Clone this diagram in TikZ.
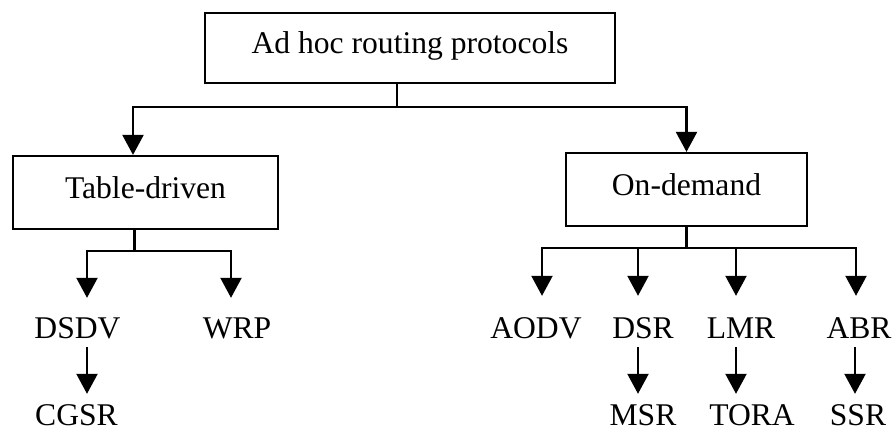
\documentclass[tikz,border=0pt]{standalone}
\usepackage{fontspec}
\setmainfont{Liberation Serif}
\usetikzlibrary{arrows.meta}
\begin{document}
\begin{tikzpicture}[x=1pt,y=-1pt,
  every node/.style={font=\fontsize{31.6}{36}\selectfont},
  box/.style={draw, line width=2.2pt, inner sep=0pt, text height=21pt, text depth=9.5pt},
  lbl/.style={inner sep=0pt, anchor=base, text height=21pt, text depth=0pt},
  arr/.style={line width=2.2pt, -{Triangle[width=21pt,length=20pt]}},
  ln/.style={line width=2.2pt}]
\useasboundingbox (0,0) rectangle (894,434);

% category boxes
\node[box, minimum width=410pt, minimum height=70pt] (top) at (410,48) {Ad hoc routing protocols};
\node[box, minimum width=265pt, minimum height=73pt] (td) at (145.5,192.5) {Table-driven};
\node[box, minimum width=241pt, minimum height=73pt] (od) at (686.5,189.5) {On-demand};

% protocol names (placed by baseline)
\node[lbl] (dsdv) at (77.5,338) {DSDV};
\node[lbl] (wrp)  at (237,338) {WRP};
\node[lbl] (cgsr) at (76.5,425) {CGSR};
\node[lbl] (aodv) at (536,338) {AODV};
\node[lbl] (dsr)  at (643,338) {DSR};
\node[lbl] (lmr)  at (741,338) {LMR};
\node[lbl] (abr)  at (859,338) {ABR};
\node[lbl] (msr)  at (643,425) {MSR};
\node[lbl] (tora) at (752,425) {TORA};
\node[lbl] (ssr)  at (858,425) {SSR};

% branch points
\coordinate (s0) at ([xshift=-13pt]top.south);
\coordinate (j0) at (397,107);
\coordinate (s1) at ([xshift=-11pt]td.south);
\coordinate (j1) at (134.5,251);
\coordinate (j2) at (686.5,248);

% arrow ends above the names
\coordinate (tdsdv) at ([xshift=9.5pt,yshift=19pt]dsdv.north);
\coordinate (twrp)  at ([xshift=-6pt,yshift=19pt]wrp.north);
\coordinate (taodv) at ([xshift=6pt,yshift=21pt]aodv.north);
\coordinate (tdsr)  at ([xshift=-5pt,yshift=21pt]dsr.north);
\coordinate (tlmr)  at ([xshift=-5pt,yshift=21pt]lmr.north);
\coordinate (tabr)  at ([xshift=-3pt,yshift=21pt]abr.north);

% top level
\draw[ln] (s0) -- (j0);
\draw[arr] (j0) -| ([xshift=-12.5pt]td.north);
\draw[arr] (j0) -| (od.north);

% table-driven branch
\draw[ln] (s1) -- (j1);
\draw[arr] (j1) -| (tdsdv);
\draw[arr] (j1) -| (twrp);
\draw[arr] ([xshift=9.5pt,yshift=-9pt]dsdv.south) -- ([xshift=10.5pt,yshift=10pt]cgsr.north);

% on-demand branch
\draw[ln] (od.south) -- (j2);
\draw[arr] (j2) -| (taodv);
\draw[arr] (j2) -| (tdsr);
\draw[arr] (j2) -| (tlmr);
\draw[arr] (j2) -| (tabr);
\draw[arr] ([xshift=-5pt,yshift=-9pt]dsr.south) -- ([xshift=-5pt,yshift=10pt]msr.north);
\draw[arr] ([xshift=-5pt,yshift=-9pt]lmr.south) -- ([xshift=-16pt,yshift=10pt]tora.north);
\draw[arr] ([xshift=-4pt,yshift=-9pt]abr.south) -- ([xshift=-3pt,yshift=10pt]ssr.north);
\end{tikzpicture}
\end{document}
